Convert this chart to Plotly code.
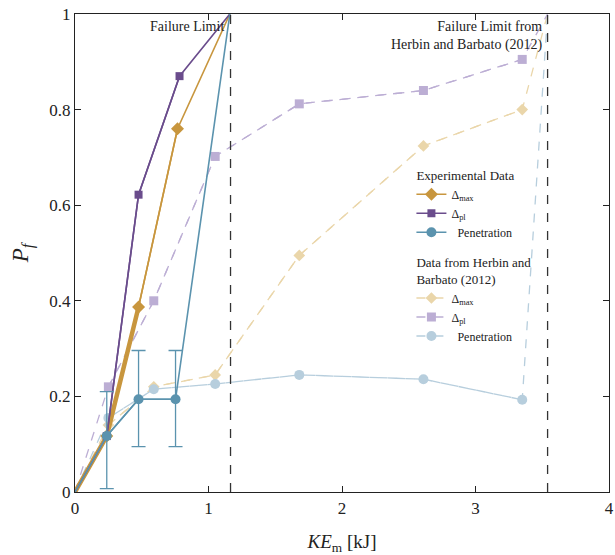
import plotly.graph_objects as go

# ---------------- data ----------------
exp_x_max = [0, 0.238, 0.476, 0.768, 1.16]
exp_y_max = [0, 0.117, 0.387, 0.760, 1.0]
exp_x_pl = [0, 0.238, 0.476, 0.783, 1.16]
exp_y_pl = [0, 0.117, 0.622, 0.870, 1.0]
exp_x_pen = [0, 0.238, 0.476, 0.753, 1.16]
exp_y_pen = [0, 0.117, 0.194, 0.194, 1.0]
pen_err_plus = [0.093, 0.102, 0.102]
pen_err_minus = [0.110, 0.099, 0.099]

hb_x = [0, 0.25, 0.59, 1.05, 1.68, 2.61, 3.35, 3.54]
hb_y_max = [0, 0.14, 0.22, 0.245, 0.495, 0.724, 0.800, 1.0]
hb_y_pl = [0, 0.22, 0.40, 0.702, 0.812, 0.840, 0.905, 1.0]
hb_y_pen = [0, 0.155, 0.215, 0.226, 0.245, 0.236, 0.193, 1.0]

failure_limit = 1.165
failure_limit_hb = 3.54

x_ticks = [0, 1, 2, 3, 4]
y_ticks = [0, 0.2, 0.4, 0.6, 0.8, 1]

C_MAX = "#C8963E"
C_PL = "#6A4C8C"
C_PEN = "#5B93AE"
C_MAX_L = "#EAD6AA"
C_PL_L = "#BCAED4"
C_PEN_L = "#B7CEDD"

FONT = "Liberation Serif"

fig = go.Figure()

# ---- Herbin & Barbato (faded, dashed) ----
for i, (y, col, sym, name) in enumerate([
    (hb_y_max, C_MAX_L, "diamond", "Δ<sub>max</sub>"),
    (hb_y_pl, C_PL_L, "square", "Δ<sub>pl</sub>"),
    (hb_y_pen, C_PEN_L, "circle", "  Penetration"),
]):
    fig.add_trace(go.Scatter(x=hb_x, y=y, mode="lines", showlegend=False,
                             line=dict(color=col, width=1.3, dash="dash"), hoverinfo="skip"))
    fig.add_trace(go.Scatter(x=hb_x[1:-1], y=y[1:-1], mode="lines+markers", name=name,
                             legendgroup="hb", legendrank=2000 + i,
                             legendgrouptitle=dict(text="Data from Herbin and<br>Barbato (2012)",
                                                   font=dict(family=FONT, size=13, color="#222")),
                             line=dict(color=col, width=1.3, dash="dash"),
                             marker=dict(symbol=sym, size=9 if sym != "circle" else 10, color=col)))

# ---- Experimental ----
fig.add_trace(go.Scatter(x=exp_x_max, y=exp_y_max, mode="lines", showlegend=False,
                         line=dict(color=C_MAX, width=1.6), hoverinfo="skip"))
fig.add_trace(go.Scatter(x=exp_x_max[:3], y=exp_y_max[:3], mode="lines", showlegend=False,
                         line=dict(color=C_MAX, width=4.5), hoverinfo="skip"))
fig.add_trace(go.Scatter(x=exp_x_max[1:4], y=exp_y_max[1:4], mode="lines+markers",
                         name="Δ<sub>max</sub>", legendgroup="exp", legendrank=100,
                         legendgrouptitle=dict(text="Experimental Data",
                                               font=dict(family=FONT, size=13, color="#222")),
                         line=dict(color=C_MAX, width=1.6),
                         marker=dict(symbol="diamond", size=10, color=C_MAX)))

fig.add_trace(go.Scatter(x=exp_x_pl, y=exp_y_pl, mode="lines", showlegend=False,
                         line=dict(color=C_PL, width=1.6), hoverinfo="skip"))
fig.add_trace(go.Scatter(x=exp_x_pl[1:4], y=exp_y_pl[1:4], mode="lines+markers",
                         name="Δ<sub>pl</sub>", legendgroup="exp", legendrank=101,
                         line=dict(color=C_PL, width=1.6),
                         marker=dict(symbol="square", size=8, color=C_PL)))

fig.add_trace(go.Scatter(x=exp_x_pen, y=exp_y_pen, mode="lines", showlegend=False,
                         line=dict(color=C_PEN, width=1.6), hoverinfo="skip"))
fig.add_trace(go.Scatter(x=exp_x_pen[1:4], y=exp_y_pen[1:4], mode="lines+markers",
                         name="  Penetration", legendgroup="exp", legendrank=102,
                         line=dict(color=C_PEN, width=1.6),
                         marker=dict(symbol="circle", size=10, color=C_PEN),
                         error_y=dict(type="data", array=pen_err_plus, arrayminus=pen_err_minus,
                                      color=C_PEN, thickness=1.3, width=7)))

# ---- failure limits ----
for xv in [failure_limit, failure_limit_hb]:
    fig.add_shape(type="line", x0=xv, x1=xv, y0=0, y1=1, xref="x", yref="y",
                  line=dict(color="#333333", width=1.3, dash="dash"))

fig.add_annotation(x=failure_limit, y=1, xref="x", yref="y", text="Failure Limit",
                   showarrow=False, xanchor="right", yanchor="top", xshift=-5, yshift=-3,
                   font=dict(family=FONT, size=14, color="#222"))
fig.add_annotation(x=failure_limit_hb, y=1, xref="x", yref="y",
                   text="Failure Limit from<br>Herbin and Barbato (2012)",
                   showarrow=False, xanchor="right", yanchor="top", align="right",
                   xshift=-3, yshift=-3,
                   font=dict(family=FONT, size=14, color="#222"))

axis_common = dict(showline=True, linecolor="#222", linewidth=1.2, mirror="ticks",
                   ticks="inside", ticklen=6, tickcolor="#222", showgrid=False, zeroline=False,
                   ticklabeloverflow="allow",
                   tickfont=dict(family=FONT, size=17, color="#222"))

fig.update_xaxes(range=[0, 4], tickvals=x_ticks,
                 title=dict(text="<i>KE</i><sub>m</sub> [kJ]", font=dict(family=FONT, size=19, color="#222"),
                            standoff=20),
                 **axis_common)
fig.update_yaxes(range=[0, 1], tickvals=y_ticks,
                 title=dict(text="<i>P<sub>f</sub></i>", font=dict(family=FONT, size=23, color="#222"),
                            standoff=14),
                 **axis_common)

fig.update_layout(
    width=615, height=555,
    margin=dict(l=75, r=1, t=14, b=63),
    plot_bgcolor="white", paper_bgcolor="white",
    font=dict(family=FONT, color="#222"),
    legend=dict(x=0.63, y=0.695, xanchor="left", yanchor="top",
                bgcolor="rgba(0,0,0,0)", borderwidth=0,
                font=dict(family=FONT, size=12, color="#222"),
                tracegroupgap=10, itemwidth=30, traceorder="grouped"),
)

fig.write_html("out.html")
